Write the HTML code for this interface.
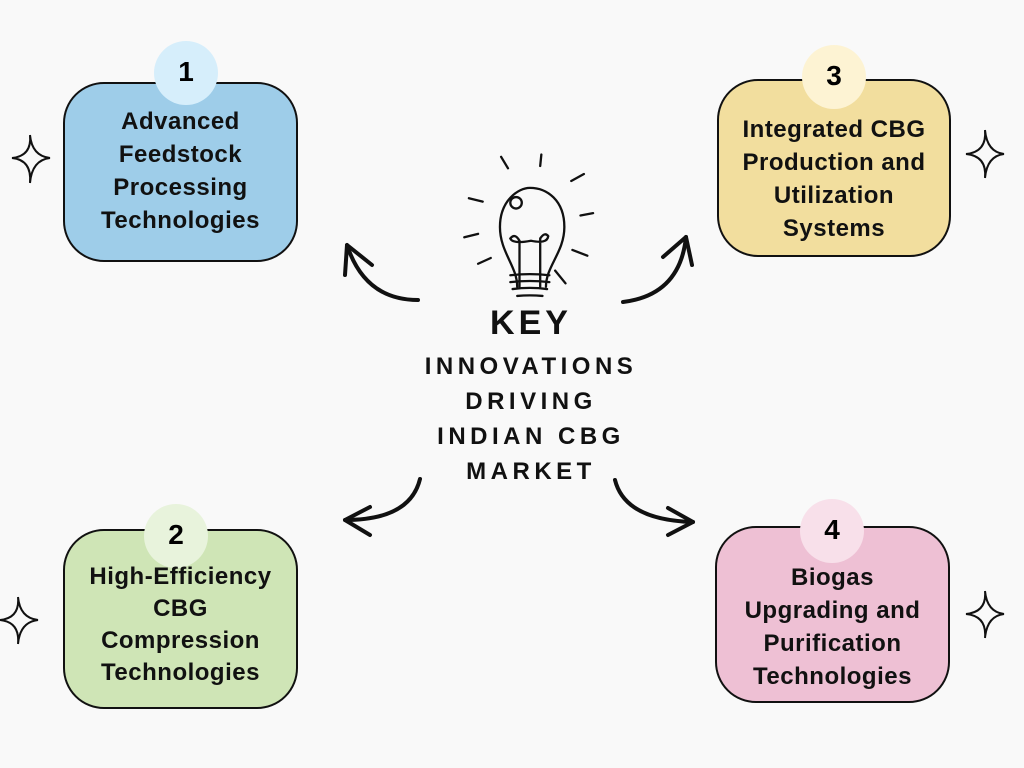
<!DOCTYPE html>
<html><head><style>
body{margin:0;background:#f9f9f9;}
.w{position:relative;width:1024px;height:768px;overflow:hidden;font-family:"Liberation Sans",sans-serif;}
.t{position:absolute;text-align:center;font-weight:bold;font-size:24px;line-height:33px;color:#111;letter-spacing:0.5px;white-space:nowrap;}
.n{position:absolute;text-align:center;font-weight:900;font-size:28px;font-family:"Liberation Sans",sans-serif;}
.c{position:absolute;left:0;width:1062px;text-align:center;font-weight:bold;color:#111;}
</style></head><body><div class="w">
<svg width="1024" height="768" style="position:absolute;left:0;top:0">
<g stroke="#111" stroke-width="2">
<rect x="64" y="83" width="233" height="178" rx="40" fill="#9ecde9"/>
<rect x="718" y="80" width="232" height="176" rx="40" fill="#f2de9e"/>
<rect x="64" y="530" width="233" height="178" rx="40" fill="#cfe5b6"/>
<rect x="716" y="527" width="233" height="175" rx="40" fill="#eec0d4"/>
</g>
<circle cx="186" cy="73" r="32" fill="#d6eefb"/>
<circle cx="834" cy="77" r="32" fill="#fdf3d3"/>
<circle cx="176" cy="536" r="32" fill="#e8f3dc"/>
<circle cx="832" cy="531" r="32" fill="#f8e0ea"/>
<g fill="none" stroke="#111" stroke-width="2">
<path d="M30 135 Q32 156 12 158 Q32 160 30 183 Q32 160 50 158 Q32 156 30 135Z"/>
<path d="M985 130 Q987 152 966 154 Q987 156 985 178 Q987 156 1004 154 Q987 152 985 130Z"/>
<path d="M18 597 Q20 618 0 620 Q20 622 18 644 Q20 622 38 620 Q20 618 18 597Z"/>
<path d="M985 591 Q987 612 966 614 Q987 616 985 638 Q987 616 1004 614 Q987 612 985 591Z"/>
</g>
<g fill="none" stroke="#111" stroke-width="4" stroke-linecap="round" stroke-linejoin="round">
<path d="M418 300 Q365 300 347 245"/><path d="M372 265 L347 245 L345 275"/>
<path d="M623 302 Q680 295 686 237"/><path d="M663 257 L686 237 L692 265"/>
<path d="M420 479 Q410 520 345 520"/><path d="M370 507 L345 520 L370 535"/>
<path d="M615 480 Q625 520 693 522"/><path d="M668 508 L693 522 L668 535"/>
</g>
<g fill="none" stroke="#111" stroke-width="2" stroke-linecap="round" transform="translate(531 235) scale(1.15) translate(-531 -235)">
<path d="M519 280 C519 262 504 250 504 228 C504 205 520 194 530 194 C545 194 560 205 560 228 C560 250 544 262 544 280"/>
<circle cx="518" cy="207" r="5"/>
<path d="M521 280 L521 240 Q517 233 513 238 Q515 243 531 240 Q545 243 546 236 Q543 232 539 238 L539 280"/>
<path d="M513 270 Q530 268 547 270 M513 276 Q530 274 547 276 M515 282 Q530 280 545 282 M519 288 Q530 287 541 288"/>
<path d="M505 167 L511 177 M540 165 L539 175 M566 188 L577 182 M574 218 L585 216 M567 248 L580 253 M552 266 L561 277 M477 203 L489 206 M473 237 L485 234 M485 260 L496 255"/>
</g>
</svg>
<div class="n" style="left:154px;top:56px;width:64px;">1</div>
<div class="n" style="left:802px;top:60px;width:64px;">3</div>
<div class="n" style="left:144px;top:519px;width:64px;">2</div>
<div class="n" style="left:800px;top:514px;width:64px;">4</div>
<div class="t" style="left:64px;width:233px;top:105px;">Advanced<br>Feedstock<br>Processing<br>Technologies</div>
<div class="t" style="left:718px;width:232px;top:113px;">Integrated CBG<br>Production and<br>Utilization<br>Systems</div>
<div class="t" style="left:64px;width:233px;top:561px;line-height:32px;">High-Efficiency<br>CBG<br>Compression<br>Technologies</div>
<div class="t" style="left:716px;width:233px;top:561px;">Biogas<br>Upgrading and<br>Purification<br>Technologies</div>
<div class="c" style="top:304px;font-size:34px;letter-spacing:4px;">KEY</div>
<div class="c" style="top:349px;font-size:24px;line-height:35px;letter-spacing:4.5px;">INNOVATIONS<br>DRIVING<br>INDIAN CBG<br>MARKET</div>
</div></body></html>
